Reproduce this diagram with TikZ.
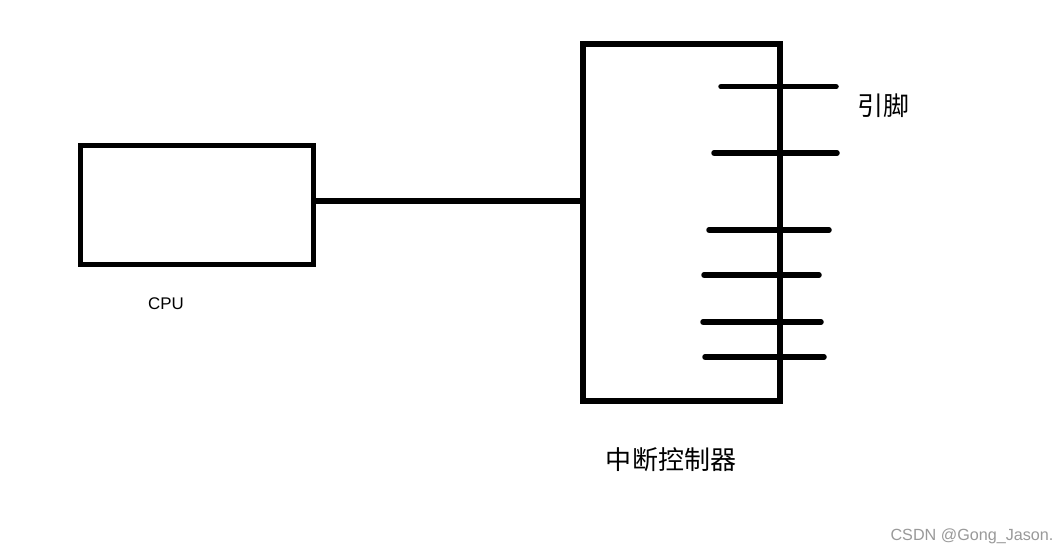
\documentclass[tikz,border=0pt]{standalone}
\usepackage{fontspec}
\setmainfont{Liberation Sans}
\newfontfamily\cjk{Noto Sans CJK SC}
\usetikzlibrary{positioning}
\definecolor{ink}{HTML}{000000}
\definecolor{wmgray}{HTML}{999999}
\tikzset{
  box/.style={draw=ink,line width=0.11cm,rectangle,inner sep=0pt},
  wire/.style={ink,line width=0.11cm},
  pinline/.style={ink,line width=0.11cm,line cap=round},
  lbl/.style={font=\fontsize{9.6}{11}\selectfont,inner sep=0pt},
  clbl/.style={font=\cjk\fontsize{14.8}{17}\selectfont,inner sep=0pt},
  wm/.style={font=\fontsize{9.2}{11}\selectfont,text=wmgray,inner sep=0pt},
}
\begin{document}
\begin{tikzpicture}[x=0.02cm,y=-0.02cm]
  \useasboundingbox[fill=white] (0,0) rectangle (1059,555);
  % ---------- boxes ----------
  \node[box,minimum width=4.66cm,minimum height=2.38cm] (cpu) at (197,205) {};
  \node[box,minimum width=3.94cm,minimum height=7.14cm] (ctrl) at (681.5,222.5) {};
  \node[lbl] (cpulbl) at (166,304) {CPU};
  \node[clbl] (ctrllbl) at (671,460) {中断控制器};
  \node[clbl] (pinlbl) at (883,106) {引脚};
  % ---------- bus ----------
  \coordinate (bus) at (448,201);
  \draw[wire] (cpu.east |- bus) -- (bus) -- (ctrl.west |- bus);
  % ---------- pins ----------
  \foreach \i/\y/\xa/\xb in {1/86.7/721/836,2/153/714/837,3/230/709/829,
                             4/275/704/819,5/322/703/821,6/357/705/824}{
    \coordinate (pinL\i) at (\xa,\y);
    \coordinate (pinR\i) at (\xb,\y);
    \draw[pinline] (pinL\i) -- (pinR\i);
  }
  \node[wm] (wmark) at (972,536) {CSDN @Gong\_Jason.};
\end{tikzpicture}
\end{document}
